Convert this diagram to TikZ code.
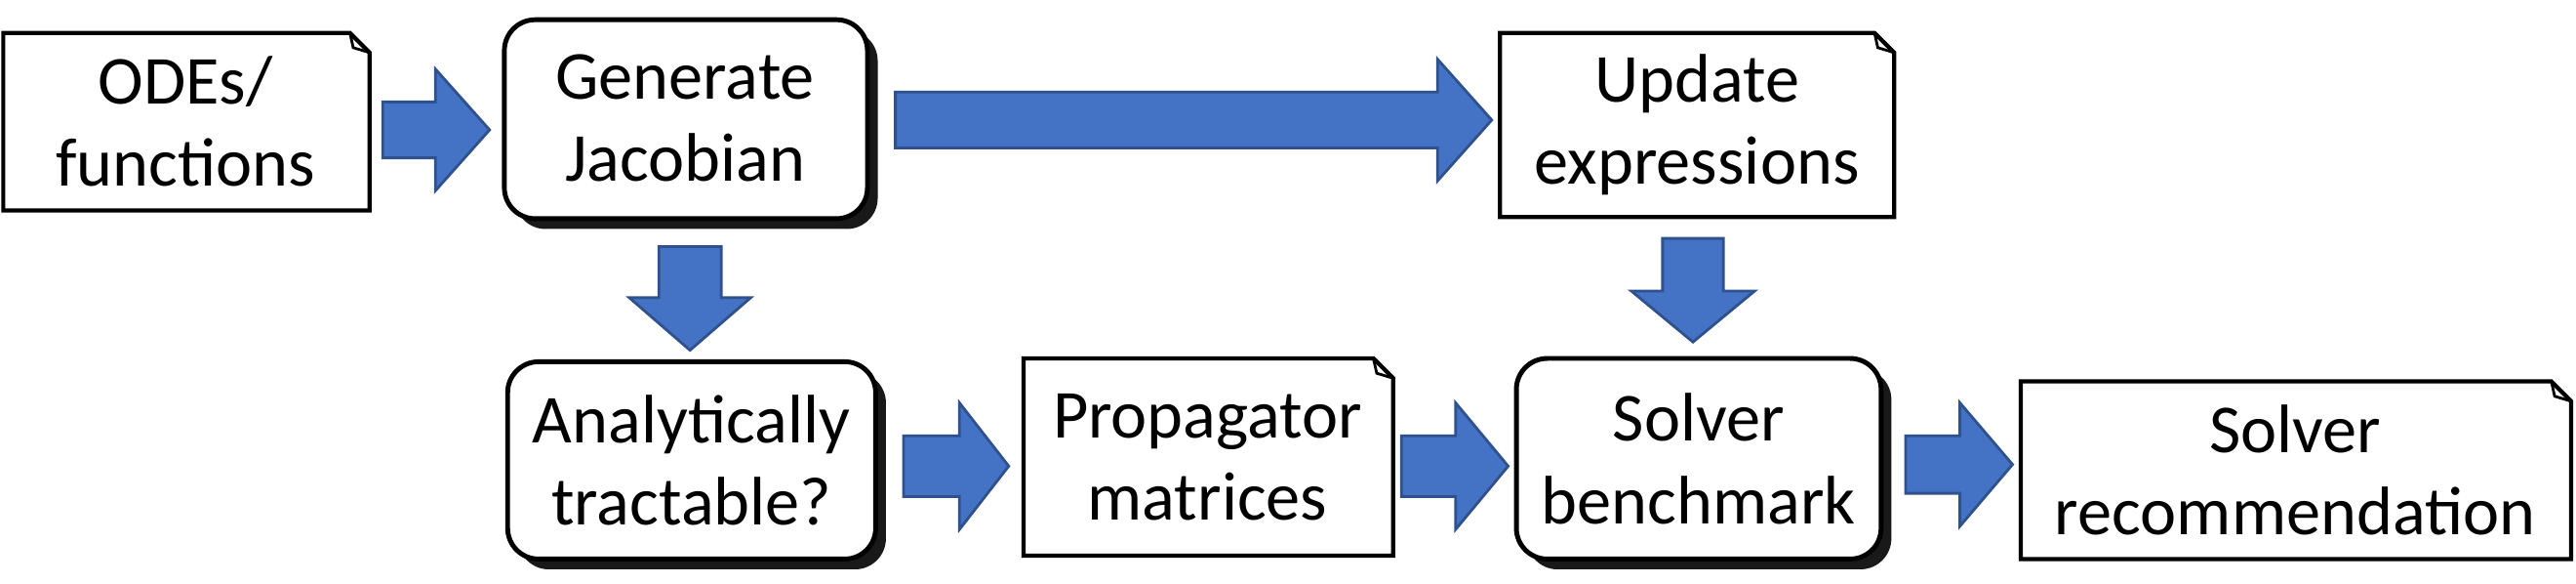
\documentclass[tikz,border=0pt]{standalone}
\usepackage{fontspec}
\setmainfont{Carlito}
\usetikzlibrary{shadows}
\definecolor{ab}{HTML}{4472C4}
\definecolor{abd}{HTML}{2F528F}
\begin{document}
\begin{tikzpicture}[x=0.016837cm,y=-0.016837cm,
  txt/.style={font=\fontsize{20}{24}\selectfont,align=center},
  rbox/.style={draw=black,line width=1.4pt,rounded corners=9pt,fill=white,drop shadow={shadow xshift=3pt,shadow yshift=-3pt,opacity=0.9,fill=black}},
  doc/.style={draw=black,line width=1.2pt,fill=white,line join=miter},
  barrow/.style={fill=ab,draw=abd,line width=0.8pt}]
\useasboundingbox (0,0) rectangle (1568,355);
% documents
\newcommand{\docshape}[4]{%
  \draw[doc] (#1,#2) -- (#3-12,#2) -- (#3,#2+12) -- (#3,#4) -- (#1,#4) -- cycle;
  \draw[line width=0.8pt] (#3-12,#2) -- (#3-10,#2+9) -- (#3,#2+12);}
\docshape{2}{20}{225}{128}
\docshape{913}{20}{1153}{132}
\docshape{623}{218}{848}{338}
\docshape{1230}{232}{1565}{340}
\node[txt] (ode) at (113,74) {ODEs/\\functions};
\node[txt] (upd) at (1033,76) {Update\\expressions};
\node[txt] (prop) at (735,278) {Propagator\\matrices};
\node[txt] (rec) at (1397,286) {Solver\\recommendation};
% rounded boxes
\draw[rbox] (307,12) rectangle (528,133);
\draw[rbox] (309,220) rectangle (533,340);
\draw[rbox] (923,218) rectangle (1145,340);
\node[txt] (gj) at (417,72) {Generate\\Jacobian};
\node[txt] (an) at (421,280) {Analytically\\tractable?};
\node[txt] (sb) at (1034,279) {Solver\\benchmark};
% block arrows right
\newcommand{\rarr}[6]{% x1 xh x2 ytop ybot shaft half
  \draw[barrow] (#1,#4+#6) -- (#2,#4+#6) -- (#2,#4) -- (#3,{(#4+#5)/2}) -- (#2,#5) -- (#2,#5-#6) -- (#1,#5-#6) -- cycle;}
\rarr{233}{265}{298}{42}{116}{20}
\rarr{545}{875}{908}{36}{110}{20}
\rarr{550}{584}{614}{245}{322}{20}
\rarr{853}{886}{918}{245}{322}{20}
\rarr{1160}{1193}{1225}{245}{320}{20}
% block arrows down
\newcommand{\darr}[6]{% y1 yh y2 xl xr inset
  \draw[barrow] (#4+#6,#1) -- (#5-#6,#1) -- (#5-#6,#2) -- (#5,#2) -- ({(#4+#5)/2},#3) -- (#4,#2) -- (#4+#6,#2) -- cycle;}
\darr{150}{181}{213}{383}{457}{18}
\darr{145}{177}{208}{993}{1068}{19}
\end{tikzpicture}
\end{document}
